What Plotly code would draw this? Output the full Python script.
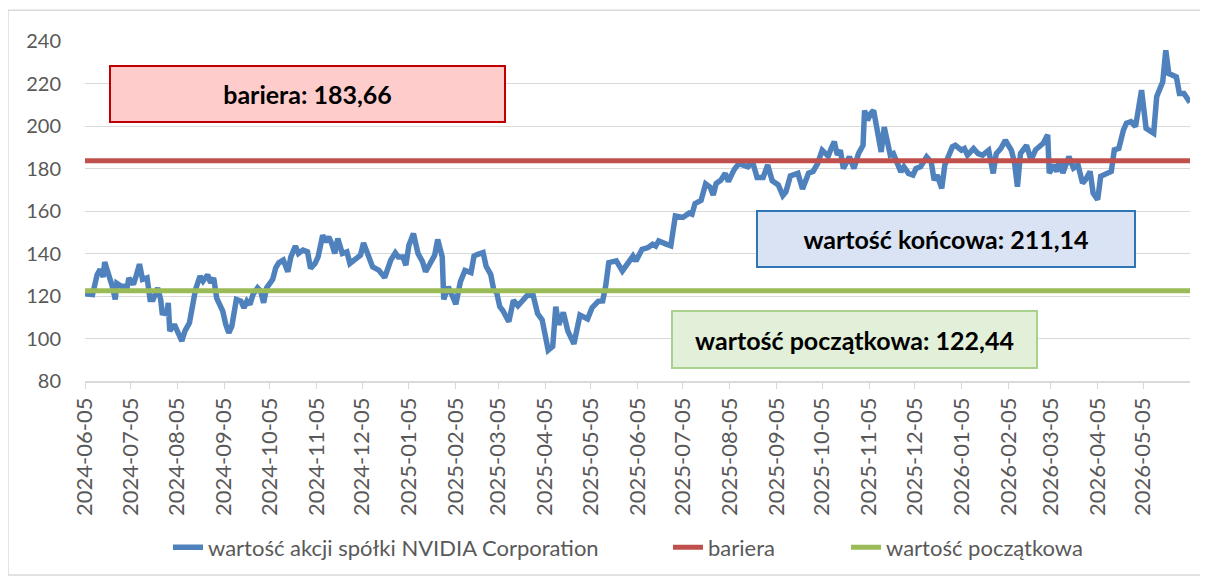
import plotly.graph_objects as go

dates = [
    "2024-06-05", "2024-06-06", "2024-06-10", "2024-06-13", "2024-06-15", "2024-06-17", "2024-06-18", "2024-06-20",
    "2024-06-23", "2024-06-25", "2024-06-26", "2024-06-29", "2024-07-03", "2024-07-04", "2024-07-07", "2024-07-09",
    "2024-07-11", "2024-07-13", "2024-07-16", "2024-07-18", "2024-07-20", "2024-07-23", "2024-07-25", "2024-07-26",
    "2024-07-29", "2024-07-30", "2024-07-31", "2024-08-03", "2024-08-05", "2024-08-08", "2024-08-10", "2024-08-13",
    "2024-08-17", "2024-08-20", "2024-08-22", "2024-08-25", "2024-08-27", "2024-08-29", "2024-08-31", "2024-09-04",
    "2024-09-06", "2024-09-08", "2024-09-10", "2024-09-13", "2024-09-16", "2024-09-18", "2024-09-20", "2024-09-22",
    "2024-09-24", "2024-09-27", "2024-09-29", "2024-10-01", "2024-10-03", "2024-10-07", "2024-10-09", "2024-10-11",
    "2024-10-14", "2024-10-17", "2024-10-19", "2024-10-22", "2024-10-24", "2024-10-27", "2024-10-30", "2024-11-01",
    "2024-11-04", "2024-11-06", "2024-11-09", "2024-11-11", "2024-11-13", "2024-11-15", "2024-11-17", "2024-11-19",
    "2024-11-22", "2024-11-25", "2024-11-27", "2024-12-01", "2024-12-04", "2024-12-06", "2024-12-09", "2024-12-10",
    "2024-12-12", "2024-12-16", "2024-12-20", "2024-12-24", "2024-12-27", "2024-12-29", "2025-01-01", "2025-01-03",
    "2025-01-05", "2025-01-08", "2025-01-11", "2025-01-14", "2025-01-16", "2025-01-19", "2025-01-22", "2025-01-24",
    "2025-01-27", "2025-01-28", "2025-01-31", "2025-02-03", "2025-02-05", "2025-02-08", "2025-02-11", "2025-02-15",
    "2025-02-17", "2025-02-19", "2025-02-23", "2025-02-25", "2025-02-28", "2025-03-02", "2025-03-04", "2025-03-06",
    "2025-03-08", "2025-03-12", "2025-03-15", "2025-03-18", "2025-03-21", "2025-03-24", "2025-03-28", "2025-03-31",
    "2025-04-03", "2025-04-07", "2025-04-10", "2025-04-12", "2025-04-14", "2025-04-17", "2025-04-20", "2025-04-24",
    "2025-04-28", "2025-05-03", "2025-05-06", "2025-05-10", "2025-05-13", "2025-05-15", "2025-05-17", "2025-05-22",
    "2025-05-26", "2025-05-29", "2025-06-02", "2025-06-04", "2025-06-08", "2025-06-12", "2025-06-15", "2025-06-17",
    "2025-06-19", "2025-06-24", "2025-06-27", "2025-06-30", "2025-07-05", "2025-07-09", "2025-07-11", "2025-07-13",
    "2025-07-17", "2025-07-20", "2025-07-23", "2025-07-25", "2025-07-27", "2025-07-30", "2025-08-02", "2025-08-04",
    "2025-08-08", "2025-08-11", "2025-08-17", "2025-08-20", "2025-08-23", "2025-08-27", "2025-08-30", "2025-09-02",
    "2025-09-06", "2025-09-09", "2025-09-11", "2025-09-14", "2025-09-19", "2025-09-22", "2025-09-26", "2025-09-29",
    "2025-10-02", "2025-10-05", "2025-10-09", "2025-10-11", "2025-10-13", "2025-10-15", "2025-10-17", "2025-10-19",
    "2025-10-23", "2025-10-26", "2025-10-29", "2025-11-01", "2025-11-02", "2025-11-04", "2025-11-06", "2025-11-08",
    "2025-11-11", "2025-11-13", "2025-11-15", "2025-11-17", "2025-11-19", "2025-11-21", "2025-11-24", "2025-11-26",
    "2025-11-28", "2025-12-01", "2025-12-04", "2025-12-06", "2025-12-09", "2025-12-13", "2025-12-16", "2025-12-18",
    "2025-12-20", "2025-12-23", "2025-12-25", "2025-12-27", "2025-12-30", "2026-01-01", "2026-01-05", "2026-01-07",
    "2026-01-09", "2026-01-13", "2026-01-16", "2026-01-19", "2026-01-23", "2026-01-26", "2026-01-28", "2026-01-31",
    "2026-02-03", "2026-02-07", "2026-02-09", "2026-02-11", "2026-02-13", "2026-02-17", "2026-02-20", "2026-02-23",
    "2026-02-28", "2026-03-03", "2026-03-04", "2026-03-07", "2026-03-09", "2026-03-11", "2026-03-13", "2026-03-17",
    "2026-03-20", "2026-03-23", "2026-03-26", "2026-03-28", "2026-03-31", "2026-04-02", "2026-04-05", "2026-04-07",
    "2026-04-11", "2026-04-14", "2026-04-16", "2026-04-19", "2026-04-22", "2026-04-24", "2026-04-27", "2026-04-30",
    "2026-05-04", "2026-05-07", "2026-05-12", "2026-05-14", "2026-05-18", "2026-05-20", "2026-05-22", "2026-05-25",
    "2026-05-27", "2026-05-29", "2026-06-01", "2026-06-05",
]

nvidia = [
    122.44, 121.0, 120.7, 130.0, 132.5, 129.0, 136.0, 131.7,
    124.6, 118.4, 126.0, 124.6, 124.6, 128.5, 125.4, 130.0,
    135.0, 127.8, 128.5, 118.4, 118.4, 123.8, 118.4, 112.0,
    111.6, 116.8, 103.5, 106.6, 103.5, 98.8, 103.5, 107.4,
    123.0, 129.3, 127.0, 130.0, 126.2, 128.5, 119.0, 112.9,
    106.6, 102.7, 105.8, 118.4, 117.6, 114.4, 117.6, 116.0,
    120.7, 123.8, 122.3, 116.8, 123.8, 127.8, 133.3, 135.6,
    136.9, 131.4, 138.4, 143.5, 140.0, 141.6, 140.8, 133.0,
    135.3, 138.4, 148.6, 145.5, 147.8, 144.7, 140.0, 147.0,
    140.0, 140.8, 135.3, 137.6, 139.2, 145.0, 140.0, 136.9,
    133.7, 132.2, 128.7, 136.9, 140.3, 138.4, 138.4, 134.5,
    143.9, 149.4, 140.0, 136.1, 131.4, 135.3, 139.2, 146.6,
    138.4, 118.4, 124.3, 119.6, 116.2, 126.7, 132.0, 131.0,
    138.8, 139.5, 140.4, 134.0, 130.2, 123.0, 121.5, 115.0,
    113.2, 107.9, 118.0, 115.4, 118.0, 120.2, 120.5, 111.7,
    108.8, 94.5, 96.3, 115.0, 106.5, 112.3, 103.5, 97.5,
    111.0, 109.2, 114.5, 117.5, 117.7, 124.8, 135.7, 136.5,
    131.8, 134.9, 138.8, 136.5, 142.0, 142.8, 144.3, 143.5,
    145.9, 144.4, 143.6, 157.7, 157.0, 159.0, 158.5, 163.5,
    165.0, 172.8, 171.2, 167.5, 173.0, 174.5, 177.7, 173.8,
    179.7, 182.3, 180.8, 183.2, 175.8, 175.8, 181.7, 174.2,
    172.3, 167.3, 169.0, 176.5, 177.7, 170.4, 177.8, 178.6,
    182.3, 188.6, 185.8, 189.5, 192.6, 186.4, 188.6, 180.0,
    185.5, 180.0, 187.0, 190.9, 207.3, 202.7, 205.8, 207.3,
    194.0, 187.8, 199.5, 192.5, 186.3, 187.0, 182.3, 178.4,
    180.8, 177.7, 176.9, 180.0, 180.8, 185.5, 183.1, 174.5,
    176.9, 170.6, 181.6, 185.5, 190.2, 190.9, 188.6, 189.4,
    186.3, 189.4, 187.0, 186.3, 188.6, 177.7, 187.0, 189.4,
    193.3, 188.6, 183.1, 171.4, 187.0, 190.9, 184.0, 188.8,
    191.9, 195.8, 177.8, 181.7, 178.6, 184.0, 177.8, 185.6,
    180.2, 181.7, 173.1, 174.7, 178.6, 168.4, 165.3, 176.3,
    177.8, 178.6, 188.8, 189.5, 198.1, 201.3, 202.0, 199.7,
    216.9, 198.9, 196.6, 213.8, 220.8, 235.6, 224.7, 223.9,
    223.1, 215.3, 215.3, 211.14,
]

barrier_value = 183.66
initial_value = 122.44
final_value = 211.14

tick_dates = [
    "2024-06-05", "2024-07-05", "2024-08-05", "2024-09-05", "2024-10-05", "2024-11-05",
    "2024-12-05", "2025-01-05", "2025-02-05", "2025-03-05", "2025-04-05", "2025-05-05",
    "2025-06-05", "2025-07-05", "2025-08-05", "2025-09-05", "2025-10-05", "2025-11-05",
    "2025-12-05", "2026-01-05", "2026-02-05", "2026-03-05", "2026-04-05", "2026-05-05",
]
y_ticks = [80, 100, 120, 140, 160, 180, 200, 220, 240]

series_names = ["wartość akcji spółki NVIDIA Corporation", "bariera", "wartość początkowa"]
series_colors = ["#4F81BD", "#C0504D", "#9BBB59"]

FONT = "Lato"
first_date, last_date = dates[0], dates[-1]

fig = go.Figure()
fig.add_trace(go.Scatter(
    x=dates, y=nvidia, mode="lines", name=series_names[0], legend="legend",
    line=dict(color=series_colors[0], width=5.5),
))
fig.add_trace(go.Scatter(
    x=[first_date, last_date], y=[barrier_value, barrier_value], mode="lines",
    name=series_names[1], legend="legend2",
    line=dict(color=series_colors[1], width=5),
))
fig.add_trace(go.Scatter(
    x=[first_date, last_date], y=[initial_value, initial_value], mode="lines",
    name=series_names[2], legend="legend3",
    line=dict(color=series_colors[2], width=5),
))

def fmt(v):
    return f"{v:.2f}".replace(".", ",")

boxes = [
    (f"<b>bariera: {fmt(barrier_value)}</b>", 0.2014, 0.8447, 393, 54, "#FFCCCC", "#C00000"),
    (f"<b>wartość końcowa: {fmt(final_value)}</b>", 0.7792, 0.4169, 376, 54, "#DAE3F3", "#2E75B6"),
    (f"<b>wartość początkowa: {fmt(initial_value)}</b>", 0.6964, 0.1225, 363, 55, "#E2F0D9", "#A9D18E"),
]
annotations = []
for text, xp, yp, w, h, bg, bc in boxes:
    annotations.append(dict(
        text=text, xref="paper", yref="paper", x=xp, y=yp,
        xanchor="center", yanchor="middle", showarrow=False,
        width=w, height=h, bgcolor=bg, bordercolor=bc, borderwidth=2, borderpad=0,
        font=dict(family=FONT, size=25, color="#000000"), align="center", valign="middle",
    ))

legend_common = dict(
    orientation="h", y=-0.485, xanchor="left", yanchor="middle",
    font=dict(family=FONT, size=22, color="#595959"), bgcolor="rgba(0,0,0,0)",
)

# page has an 8px body margin: figure is 8px smaller and margins shifted accordingly
fig.update_layout(
    width=1200, height=571,
    margin=dict(l=77, r=18, t=33, b=197),
    paper_bgcolor="white", plot_bgcolor="white",
    font=dict(family=FONT, size=18, color="#595959"),
    showlegend=True,
    legend=dict(x=0.0751, **legend_common),
    legend2=dict(x=0.5276, **legend_common),
    legend3=dict(x=0.6887, **legend_common),
    annotations=annotations,
    shapes=[dict(
        type="rect", xref="paper", yref="paper",
        x0=-0.0697, x1=1.0127, y0=-0.5705, y1=1.0908,
        line=dict(color="#D9D9D9", width=1.5), fillcolor="rgba(0,0,0,0)", layer="below",
    )],
    xaxis=dict(
        type="date", range=[first_date, last_date],
        tickvals=tick_dates, ticktext=tick_dates, tickangle=-90,
        showgrid=False, showline=True, linecolor="#D9D9D9", linewidth=1.5,
        ticks="outside", ticklen=6, tickcolor="#D9D9D9",
        tickfont=dict(family=FONT, size=22, color="#595959"),
        zeroline=False,
    ),
    yaxis=dict(
        range=[80, 240], tickvals=y_ticks, showgrid=True, gridcolor="#D9D9D9", gridwidth=1,
        showline=False, zeroline=False, ticks="", ticklabelstandoff=23,
        tickfont=dict(family=FONT, size=20, color="#595959"),
    ),
)

fig.write_html("out.html")
